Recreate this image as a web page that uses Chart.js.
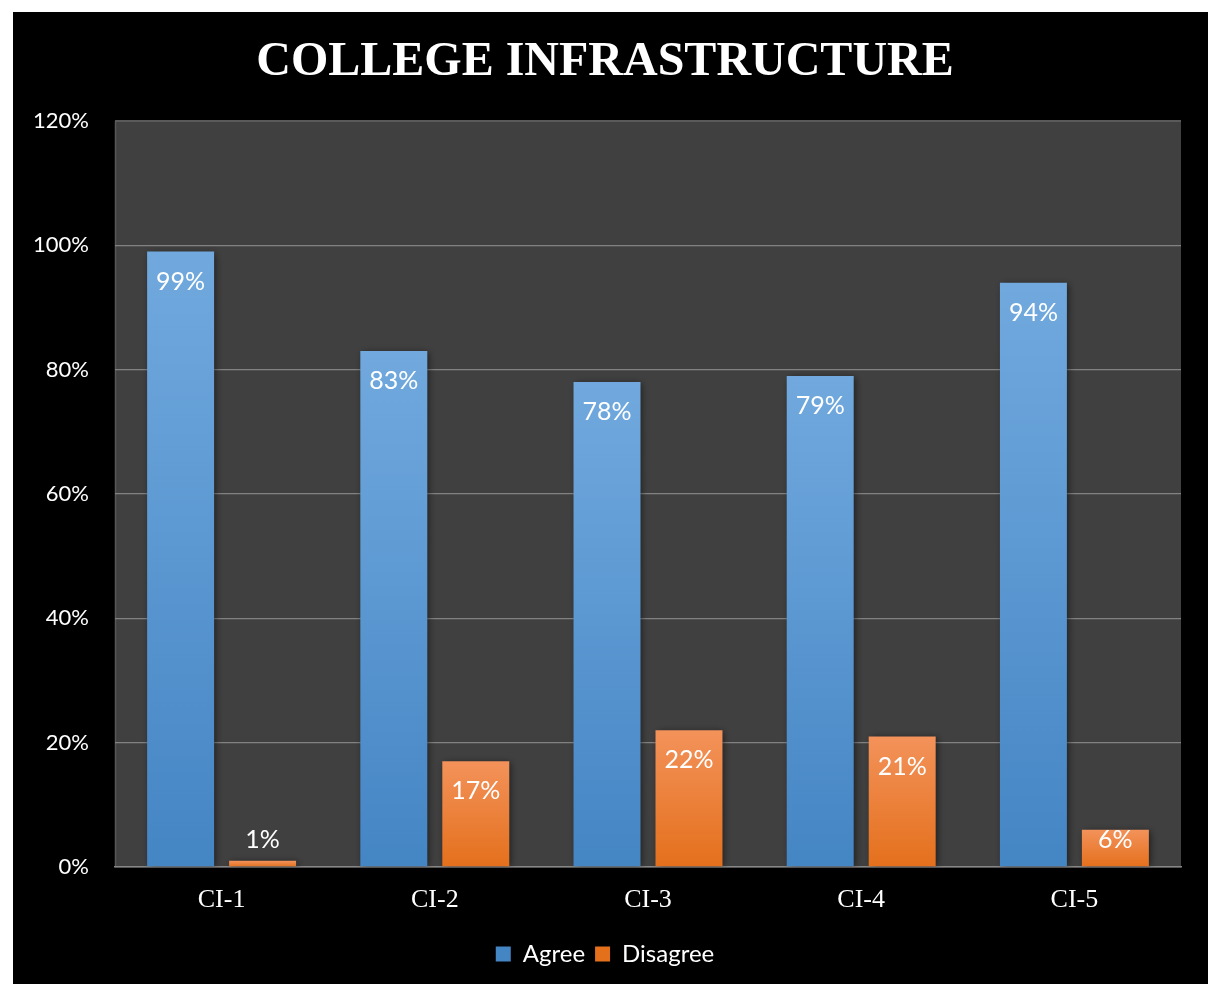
<!DOCTYPE html>
<html>
<head>
<meta charset="utf-8">
<title>College Infrastructure</title>
<script src="https://cdn.jsdelivr.net/npm/chart.js@4/dist/chart.umd.min.js"></script>
<style>
  html, body { margin: 0; padding: 0; background: #ffffff; }
  #frame { position: absolute; left: 13px; top: 12px; right: 0; bottom: 0; background: #000000; }
  #chart { position: absolute; left: 0; top: 0; display: block; }
</style>
</head>
<body>
<div id="frame"></div>
<canvas id="chart" width="1208" height="984"></canvas>
<script>
// Survey responses per infrastructure item (percent)
const categories = ['CI-1', 'CI-2', 'CI-3', 'CI-4', 'CI-5'];
const seriesNames = ['Agree', 'Disagree'];
const agreeValues = [99, 83, 78, 79, 94];
const disagreeValues = [1, 17, 22, 21, 6];
const yTicks = [0, 20, 40, 60, 80, 100, 120];
const chartTitle = 'COLLEGE INFRASTRUCTURE';

// Per-bar vertical gradient: lighter at the top, deeper at the base
function barGradient(topColor, bottomColor, flatColor) {
  return (ctx) => {
    const chart = ctx.chart;
    const y = chart.scales && chart.scales.y;
    if (ctx.type !== 'data' || !y || !chart.chartArea) return flatColor;
    const yTop = y.getPixelForValue(ctx.raw);
    const yBase = y.getPixelForValue(0);
    if (!isFinite(yTop) || !isFinite(yBase) || yTop === yBase) return flatColor;
    const g = chart.ctx.createLinearGradient(0, yTop, 0, yBase);
    g.addColorStop(0, topColor);
    g.addColorStop(1, bottomColor);
    return g;
  };
}

// Dark plot background with a thin left edge
const plotBackground = {
  id: 'plotBackground',
  beforeDraw(chart) {
    const { ctx, chartArea: a } = chart;
    ctx.save();
    ctx.fillStyle = '#404040';
    ctx.fillRect(a.left, a.top, a.right - a.left, a.bottom - a.top);
    ctx.strokeStyle = '#575757';
    ctx.lineWidth = 1.5;
    ctx.beginPath();
    ctx.moveTo(a.left + 0.5, a.top);
    ctx.lineTo(a.left + 0.5, a.bottom);
    ctx.stroke();
    ctx.restore();
  }
};

// Soft drop shadow under the bars
const barShadow = {
  id: 'barShadow',
  beforeDatasetsDraw(chart) {
    const c = chart.ctx;
    c.save();
    c.shadowColor = 'rgba(0,0,0,0.55)';
    c.shadowBlur = 7;
    c.shadowOffsetX = 2;
    c.shadowOffsetY = 1;
  },
  afterDatasetsDraw(chart) {
    chart.ctx.restore();
  }
};

// Value labels at the inside end of each bar (lifted above very short bars)
const valueLabels = {
  id: 'valueLabels',
  afterDatasetsDraw(chart) {
    const ctx = chart.ctx;
    ctx.save();
    ctx.fillStyle = '#ffffff';
    ctx.font = '25px Lato, "Open Sans", sans-serif';
    ctx.textAlign = 'center';
    ctx.textBaseline = 'middle';
    chart.data.datasets.forEach((ds, di) => {
      const meta = chart.getDatasetMeta(di);
      meta.data.forEach((bar, i) => {
        const v = ds.data[i];
        const cy = Math.min(bar.y + 30, bar.base - 26);
        ctx.fillText(v + '%', bar.x, cy);
      });
    });
    ctx.restore();
  }
};

new Chart(document.getElementById('chart'), {
  type: 'bar',
  data: {
    labels: categories,
    datasets: [
      {
        label: seriesNames[0],
        data: agreeValues,
        backgroundColor: barGradient('#71a9de', '#4485c4', '#5b9bd5'),
        borderWidth: 0,
        categoryPercentage: 0.769,
        barPercentage: 0.817
      },
      {
        label: seriesNames[1],
        data: disagreeValues,
        backgroundColor: barGradient('#f3925a', '#e4701c', '#ef8236'),
        borderWidth: 0,
        categoryPercentage: 0.769,
        barPercentage: 0.817
      }
    ]
  },
  options: {
    responsive: false,
    devicePixelRatio: 1,
    animation: false,
    layout: { padding: { left: 29, right: 27, top: 0, bottom: 8 } },
    scales: {
      x: {
        grid: { display: false, drawTicks: false },
        border: { display: true, color: '#878787', width: 1.5 },
        ticks: {
          color: '#ffffff',
          padding: 18,
          font: { family: '"Liberation Serif", "Times New Roman", serif', size: 26 }
        },
        afterFit(scale) { scale.height = 65; }
      },
      y: {
        min: 0,
        max: 120,
        afterBuildTicks(scale) { scale.ticks = yTicks.map(v => ({ value: v })); },
        grid: {
          drawTicks: false,
          color: (c) => (c.tick && c.tick.value === 120 ? '#5a5a5a' : '#828282'),
          lineWidth: (c) => (c.tick && c.tick.value === 120 ? 2 : 1.3)
        },
        border: { display: false },
        ticks: {
          color: '#ffffff',
          padding: 26,
          font: { family: 'Lato, "Open Sans", sans-serif', size: 22 },
          callback: (v) => v + '%'
        },
        afterFit(scale) { scale.width = 86; }
      }
    },
    plugins: {
      title: {
        display: true,
        text: chartTitle,
        color: '#ffffff',
        font: { family: '"Liberation Serif", "Times New Roman", serif', size: 48, weight: 'bold' },
        padding: { top: 34, bottom: 29.4 }
      },
      legend: {
        position: 'bottom',
        labels: {
          color: '#ffffff',
          boxWidth: 15,
          boxHeight: 15,
          padding: 10,
          font: { family: 'Lato, "Open Sans", sans-serif', size: 24 }
        }
      },
      tooltip: { enabled: false }
    }
  },
  plugins: [plotBackground, barShadow, valueLabels]
});
</script>
</body>
</html>
